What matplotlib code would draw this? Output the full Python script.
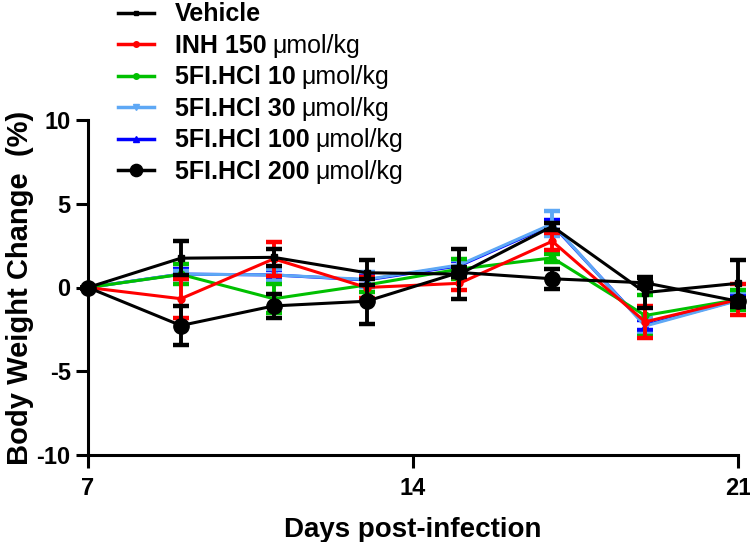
import matplotlib
matplotlib.use("Agg")
import matplotlib.pyplot as plt
from matplotlib.lines import Line2D

plt.rcParams['font.family'] = ['Liberation Sans', 'DejaVu Sans']
plt.rcParams['axes.unicode_minus'] = False

days = [7, 9, 11, 13, 15, 17, 19, 21]

vehicle = [0, 1.75, 1.8, 0.88, 0.8, 3.65, -0.3, 0.25]
vehicle_err = [0, 1.0, 0.5, 0.75, 1.5, 0.2, 0.9, 1.4]

inh150 = [0, -0.67, 1.71, 0.0, 0.25, 2.76, -2.05, -0.72]
inh150_err = [0, 1.15, 1.0, 0.6, 0.4, 0.5, 0.95, 0.9]

fi10 = [0, 0.78, -0.67, 0.15, 1.1, 1.77, -1.67, -0.72]
fi10_err = [0, 0.6, 0.85, 0.4, 0.6, 0.25, 1.25, 0.6]

fi30 = [0, 0.8, 0.75, 0.48, 1.35, 3.8, -2.3, -0.78]
fi30_err = [0, 0.2, 0.35, 0.45, 0.3, 0.75, 0.5, 0.5]

fi100 = [0, 0.8, 0.75, 0.45, 1.3, 3.75, -2.25, -0.75]
fi100_err = [0, 0.3, 0.3, 0.3, 0.3, 0.3, 0.3, 0.3]

fi200 = [0, -2.27, -1.1, -0.82, 0.9, 0.52, 0.28, -0.82]
fi200_err = [0, 1.18, 0.7, 1.35, 0.3, 0.6, 0.3, 0.2]

labels_bold = ["Vehicle", "INH 150", "5FI.HCl 10", "5FI.HCl 30",
               "5FI.HCl 100", "5FI.HCl 200"]
labels_unit = ["", "μmol/kg", "μmol/kg", "μmol/kg", "μmol/kg", "μmol/kg"]

xticks = [7, 14, 21]
yticks = [-10, -5, 0, 5, 10]

fig = plt.figure(figsize=(7.5, 5.42), dpi=100)
ax = fig.add_axes([88/750, 1-455/542, 650/750, 335/542])

series = [
    # (values, err, color, marker, ms, label_idx, zorder)
    (fi100, fi100_err, '#0000FF', '^', 5, 4, 2),
    (fi30, fi30_err, '#5EA8F5', 'v', 5, 3, 3),
    (fi10, fi10_err, '#00C000', 'o', 5, 2, 4),
    (inh150, inh150_err, '#FF0000', 'o', 5, 1, 5),
    (vehicle, vehicle_err, '#000000', 's', 4, 0, 6),
    (fi200, fi200_err, '#000000', 'o', 11, 5, 7),
]
handles = {}
for vals, err, col, mk, ms, li, z in series:
    ax.errorbar(days, vals, yerr=err, color=col, marker=mk, markersize=ms,
                linewidth=2.2, elinewidth=2.8, capsize=6, capthick=3.2,
                zorder=z, clip_on=False)
    handles[li] = Line2D([], [], color=col, marker=mk, markersize=ms * 0.8,
                         linewidth=2.5)

ax.set_xlim(7, 21)
ax.set_ylim(-10, 10)
ax.set_xticks(xticks)
ax.set_yticks(yticks)
for s in ['top', 'right']:
    ax.spines[s].set_visible(False)
for s in ['left', 'bottom']:
    ax.spines[s].set_linewidth(2.2)
ax.tick_params(width=2.2, length=9, labelsize=17)
ax.tick_params(axis='x', pad=7)
for t in ax.get_xticklabels() + ax.get_yticklabels():
    t.set_fontweight('bold')
ax.set_xlabel("Days post-infection", fontsize=20, fontweight='bold', labelpad=12)
ax.set_ylabel("Body Weight Change  (%)", fontsize=21, fontweight='bold', labelpad=2)

leg = fig.legend([handles[i] for i in range(6)], labels_bold, loc='upper left',
                 bbox_to_anchor=(95/750, 1.037), frameon=False,
                 handlelength=1.45, handletextpad=0.85, labelspacing=0.30,
                 prop={'weight': 'bold', 'size': 18})

fig.canvas.draw()
renderer = fig.canvas.get_renderer()
for txt, unit in zip(leg.get_texts(), labels_unit):
    if not unit:
        continue
    bb = txt.get_window_extent(renderer)
    x_fig = (bb.x1 + 6) / fig.bbox.width
    fig.text(x_fig, (bb.y0 + bb.y1) / 2 / fig.bbox.height, unit, fontsize=18,
             ha='left', va='center')

fig.savefig("out.png", dpi=100)
